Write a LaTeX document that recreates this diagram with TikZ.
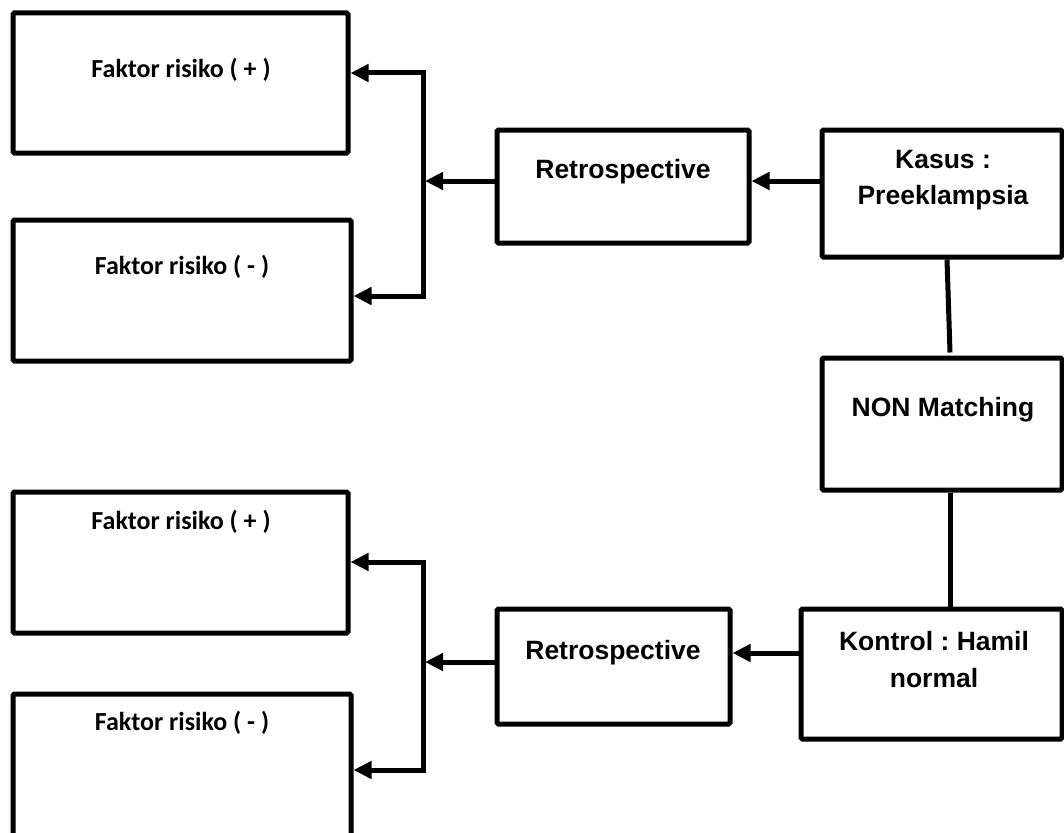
\documentclass[tikz,border=0pt]{standalone}
\usepackage{fontspec}
\newfontfamily\calfont{Carlito}
\newfontfamily\arifont{Liberation Sans}
\usetikzlibrary{arrows.meta}
\frenchspacing
\begin{document}
\begin{tikzpicture}[x=1pt,y=-1pt,
  box/.style={draw, line width=5pt, rounded corners=1.5pt, inner sep=0pt},
  caltxt/.style={font=\calfont\bfseries\fontsize{26}{30}\selectfont, inner sep=0pt},
  aritxt/.style={font=\arifont\bfseries\fontsize{26.5}{36.5}\selectfont, inner sep=0pt, align=center},
  conn/.style={line width=5pt},
  tip/.style={-{Triangle[length=18pt,width=17pt]}},
  bothtips/.style={{Triangle[length=18pt,width=17pt]}-{Triangle[length=18pt,width=17pt]}}
]
\useasboundingbox (0,0) rectangle (1064,832);
\fill[white] (0,0) rectangle (1064,832);

% boxes
\node[box, minimum width=335pt, minimum height=140pt] (f1) at (180.5,83) {};
\node[box, minimum width=338pt, minimum height=141pt] (f2) at (182,290.5) {};
\node[box, minimum width=335pt, minimum height=141pt] (f3) at (180.5,562.5) {};
\node[box, minimum width=338pt, minimum height=166pt] (f4) at (182,777) {};
\node[box, minimum width=252pt, minimum height=113pt] (r1) at (623,186.5) {};
\node[box, minimum width=233pt, minimum height=115pt] (r2) at (613.5,666.5) {};
\node[box, minimum width=240pt, minimum height=127pt] (k1) at (942,193.5) {};
\node[box, minimum width=240pt, minimum height=132pt] (nm) at (942,424) {};
\node[box, minimum width=261pt, minimum height=130pt] (k2) at (931.5,674) {};

% texts
\node[caltxt] (f1t) at (181,70) {Faktor risiko ( + )};
\node[caltxt] (f2t) at (182,267) {Faktor risiko ( - )};
\node[caltxt] (f3t) at (181,522) {Faktor risiko ( + )};
\node[caltxt] (f4t) at (182,723) {Faktor risiko ( - )};
\node[aritxt] (r1t) at (623,172) {Retrospective};
\node[aritxt] (r2t) at (613,653) {Retrospective};
\node[aritxt] (k1t) at (943,180) {Kasus :\\Preeklampsia};
\node[aritxt] (nmt) at (943,410) {NON Matching};
\node[aritxt] (k2t) at (934,659.5) {Kontrol : Hamil\\normal};

% connector points
\coordinate (t1) at (423,73);
\coordinate (t2) at (423,296);
\coordinate (j1) at (425,181);
\coordinate (t3) at (423,562);
\coordinate (t4) at (423,770);
\coordinate (j2) at (425,662);
\coordinate (j3) at (760,653);

% top group
\draw[conn, bothtips] (f1.east |- t1) -- (t1) -- (t2) -- (f2.east |- t2);
\draw[conn, tip] (r1.west |- j1) -- (j1);
\draw[conn, tip] (k1.west |- j1) -- (r1.east |- j1);

% vertical links
\draw[conn] ([xshift=5pt]k1.south) -- ([xshift=8pt,yshift=3pt]nm.north);
\draw[conn] ([xshift=8pt]nm.south) -- ([xshift=18.5pt]k2.north);

% bottom group
\draw[conn, bothtips] (f3.east |- t3) -- (t3) -- (t4) -- (f4.east |- t4);
\draw[conn, tip] (r2.west |- j2) -- (j2);
\draw[conn, tip] (k2.west |- j3) -- (r2.east |- j3);
\end{tikzpicture}
\end{document}
